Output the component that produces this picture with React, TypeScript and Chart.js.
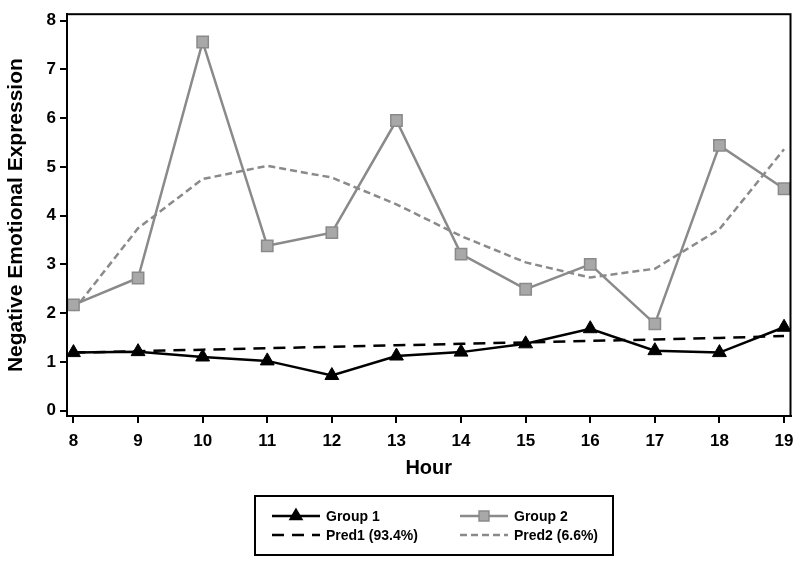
import React, { useEffect, useRef } from "react";
import { Chart, registerables } from "chart.js";

Chart.register(...registerables);

const hours = [8, 9, 10, 11, 12, 13, 14, 15, 16, 17, 18, 19];
const group1 = [1.19, 1.21, 1.1, 1.02, 0.72, 1.12, 1.2, 1.37, 1.68, 1.23, 1.19, 1.71];
const group2 = [2.17, 2.72, 7.56, 3.38, 3.65, 5.95, 3.21, 2.49, 3.0, 1.78, 5.44, 4.55];
const pred1 = [1.19, 1.22, 1.25, 1.28, 1.31, 1.34, 1.37, 1.4, 1.43, 1.46, 1.49, 1.53];
const pred2 = [2.05, 3.74, 4.75, 5.02, 4.78, 4.23, 3.58, 3.04, 2.73, 2.91, 3.72, 5.36];
const yTicks = [0, 1, 2, 3, 4, 5, 6, 7, 8];
const seriesLabels = ["Group 1", "Group 2", "Pred1 (93.4%)", "Pred2 (6.6%)"];

const FONT = "'Liberation Sans', Arial, sans-serif";
const GRAY_LINE = "#8a8a8a";
const GRAY_FILL = "#a8a8a8";

const toPoints = (vals: number[]) => vals.map((v, i) => ({ x: hours[i], y: v }));

function drawMarker(ctx: CanvasRenderingContext2D, style: string, x: number, y: number, r: number, fill: string, stroke: string) {
  ctx.save();
  ctx.fillStyle = fill;
  ctx.strokeStyle = stroke;
  ctx.lineWidth = 1.5;
  ctx.setLineDash([]);
  ctx.beginPath();
  if (style === "triangle") {
    ctx.moveTo(x, y - r);
    ctx.lineTo(x + r * 0.866, y + r * 0.5);
    ctx.lineTo(x - r * 0.866, y + r * 0.5);
    ctx.closePath();
  } else {
    const s = r * Math.SQRT1_2;
    ctx.rect(x - s, y - s, 2 * s, 2 * s);
  }
  ctx.fill();
  ctx.stroke();
  ctx.restore();
}

const framePlugin = {
  id: "frame",
  afterDraw(chart: any) {
    const { ctx, chartArea } = chart;
    ctx.save();
    ctx.strokeStyle = "#000";
    ctx.lineWidth = 2;
    ctx.strokeRect(chartArea.left, chartArea.top, chartArea.right - chartArea.left, chartArea.bottom - chartArea.top);
    ctx.restore();
  },
};

const legendPlugin = {
  id: "boxLegend",
  afterDraw(chart: any) {
    const ctx: CanvasRenderingContext2D = chart.ctx;
    ctx.save();
    ctx.strokeStyle = "#000";
    ctx.lineWidth = 2;
    ctx.strokeRect(255, 496, 358, 59);
    const cols = [272, 460];
    const rows = [516, 535];
    const lineLen = 48;
    chart.data.datasets.forEach((ds: any, i: number) => {
      const x0 = cols[i % 2];
      const y = rows[Math.floor(i / 2)];
      ctx.save();
      ctx.strokeStyle = ds.borderColor;
      ctx.lineWidth = ds.borderWidth;
      ctx.setLineDash(ds.borderDash || []);
      ctx.beginPath();
      ctx.moveTo(x0, y);
      ctx.lineTo(x0 + lineLen, y);
      ctx.stroke();
      ctx.restore();
      if (ds.pointRadius > 0) {
        drawMarker(ctx, ds.pointStyle, x0 + lineLen / 2, y, 7, ds.pointBackgroundColor, ds.pointBorderColor);
      }
      ctx.fillStyle = "#000";
      ctx.font = `bold 14px ${FONT}`;
      ctx.textBaseline = "middle";
      ctx.textAlign = "left";
      ctx.fillText(ds.label, x0 + lineLen + 6, y + 1);
    });
    ctx.restore();
  },
};

export default function App() {
  const ref = useRef<HTMLCanvasElement | null>(null);
  useEffect(() => {
    if (!ref.current) return;
    const chart = new Chart(ref.current, {
      type: "line",
      data: {
        datasets: [
          {
            label: seriesLabels[0],
            data: toPoints(group1),
            borderColor: "#000",
            borderWidth: 2.5,
            pointStyle: "triangle",
            pointRadius: 8,
            pointBackgroundColor: "#000",
            pointBorderColor: "#000",
            pointBorderWidth: 1,
            tension: 0,
          },
          {
            label: seriesLabels[1],
            data: toPoints(group2),
            borderColor: GRAY_LINE,
            borderWidth: 2.5,
            pointStyle: "rect",
            pointRadius: 8,
            pointBackgroundColor: GRAY_FILL,
            pointBorderColor: GRAY_LINE,
            pointBorderWidth: 1.5,
            tension: 0,
          },
          {
            label: seriesLabels[2],
            data: toPoints(pred1),
            borderColor: "#000",
            borderWidth: 2.5,
            borderDash: [12, 8],
            pointRadius: 0,
            tension: 0,
          },
          {
            label: seriesLabels[3],
            data: toPoints(pred2),
            borderColor: GRAY_LINE,
            borderWidth: 2.5,
            borderDash: [7, 4],
            pointRadius: 0,
            tension: 0,
          },
        ] as any,
      },
      options: {
        animation: false,
        responsive: false,
        layout: { padding: { left: 0, right: 7, top: 8, bottom: 77 } },
        plugins: { legend: { display: false }, tooltip: { enabled: false } },
        scales: {
          x: {
            type: "linear",
            min: 7.9,
            max: 19.1,
            afterBuildTicks: (s: any) => {
              s.ticks = hours.map((h) => ({ value: h }));
            },
            afterFit: (s: any) => {
              s.height = 68;
              s.paddingLeft = 0;
              s.paddingRight = 0;
            },
            border: { display: true, color: "#000", width: 2 },
            grid: { drawOnChartArea: false, drawTicks: true, tickLength: 7, color: "#000", lineWidth: 2 },
            ticks: { color: "#000", font: { family: FONT, size: 17, weight: "bold" }, padding: 8, maxRotation: 0 },
            title: { display: true, text: "Hour", color: "#000", font: { family: FONT, size: 20, weight: "bold" }, padding: { top: 4, bottom: 4 } },
          },
          y: {
            type: "linear",
            min: -0.11,
            max: 8.13,
            afterBuildTicks: (s: any) => {
              s.ticks = yTicks.map((v) => ({ value: v }));
            },
            afterFit: (s: any) => {
              s.width = 67;
            },
            border: { display: true, color: "#000", width: 2 },
            grid: { drawOnChartArea: false, drawTicks: true, tickLength: 7, color: "#000", lineWidth: 2 },
            ticks: { color: "#000", font: { family: FONT, size: 17, weight: "bold" }, padding: 4 },
            title: { display: true, text: "Negative Emotional Expression", color: "#000", font: { family: FONT, size: 21, weight: "bold" }, padding: { top: 4, bottom: 4 } },
          },
        },
      } as any,
      plugins: [framePlugin, legendPlugin],
    });
    return () => chart.destroy();
  }, []);
  return (
    <div style={{ position: "fixed", left: 0, top: 0, width: 800, height: 561, background: "#fff" }}>
      <canvas ref={ref} width={800} height={561} />
    </div>
  );
}
